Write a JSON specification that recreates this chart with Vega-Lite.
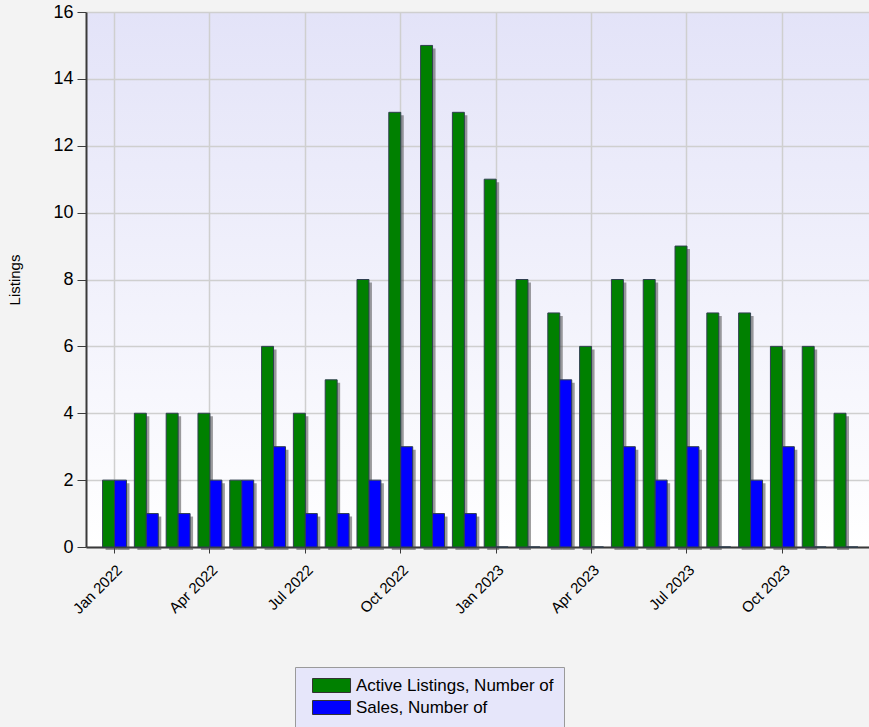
{
  "$schema": "https://vega.github.io/schema/vega-lite/v6.json",
  "width": 783,
  "height": 535,
  "autosize": {"type": "none"},
  "padding": {"left": 86, "top": 12, "right": 0, "bottom": 180},
  "background": "#f3f3f3",
  "view": {
    "stroke": null,
    "fill": {"gradient": "linear", "x1": 0, "y1": 0, "x2": 0, "y2": 1,
      "stops": [{"offset": 0, "color": "#e3e3f8"}, {"offset": 1, "color": "#ffffff"}]}
  },
  "config": {
    "font": "Liberation Sans",
    "axis": {"gridColor": "#cfcfcf", "gridWidth": 1.5, "domainColor": "#3a3a3a", "domainWidth": 2, "tickColor": "#3a3a3a", "labelColor": "#000000", "titleColor": "#000000"}
  },
  "data": {"values": [
    {"month": "Jan 2022", "series": "Active Listings, Number of", "value": 2},
    {"month": "Feb 2022", "series": "Active Listings, Number of", "value": 4},
    {"month": "Mar 2022", "series": "Active Listings, Number of", "value": 4},
    {"month": "Apr 2022", "series": "Active Listings, Number of", "value": 4},
    {"month": "May 2022", "series": "Active Listings, Number of", "value": 2},
    {"month": "Jun 2022", "series": "Active Listings, Number of", "value": 6},
    {"month": "Jul 2022", "series": "Active Listings, Number of", "value": 4},
    {"month": "Aug 2022", "series": "Active Listings, Number of", "value": 5},
    {"month": "Sep 2022", "series": "Active Listings, Number of", "value": 8},
    {"month": "Oct 2022", "series": "Active Listings, Number of", "value": 13},
    {"month": "Nov 2022", "series": "Active Listings, Number of", "value": 15},
    {"month": "Dec 2022", "series": "Active Listings, Number of", "value": 13},
    {"month": "Jan 2023", "series": "Active Listings, Number of", "value": 11},
    {"month": "Feb 2023", "series": "Active Listings, Number of", "value": 8},
    {"month": "Mar 2023", "series": "Active Listings, Number of", "value": 7},
    {"month": "Apr 2023", "series": "Active Listings, Number of", "value": 6},
    {"month": "May 2023", "series": "Active Listings, Number of", "value": 8},
    {"month": "Jun 2023", "series": "Active Listings, Number of", "value": 8},
    {"month": "Jul 2023", "series": "Active Listings, Number of", "value": 9},
    {"month": "Aug 2023", "series": "Active Listings, Number of", "value": 7},
    {"month": "Sep 2023", "series": "Active Listings, Number of", "value": 7},
    {"month": "Oct 2023", "series": "Active Listings, Number of", "value": 6},
    {"month": "Nov 2023", "series": "Active Listings, Number of", "value": 6},
    {"month": "Dec 2023", "series": "Active Listings, Number of", "value": 4},
    {"month": "Jan 2022", "series": "Sales, Number of", "value": 2},
    {"month": "Feb 2022", "series": "Sales, Number of", "value": 1},
    {"month": "Mar 2022", "series": "Sales, Number of", "value": 1},
    {"month": "Apr 2022", "series": "Sales, Number of", "value": 2},
    {"month": "May 2022", "series": "Sales, Number of", "value": 2},
    {"month": "Jun 2022", "series": "Sales, Number of", "value": 3},
    {"month": "Jul 2022", "series": "Sales, Number of", "value": 1},
    {"month": "Aug 2022", "series": "Sales, Number of", "value": 1},
    {"month": "Sep 2022", "series": "Sales, Number of", "value": 2},
    {"month": "Oct 2022", "series": "Sales, Number of", "value": 3},
    {"month": "Nov 2022", "series": "Sales, Number of", "value": 1},
    {"month": "Dec 2022", "series": "Sales, Number of", "value": 1},
    {"month": "Jan 2023", "series": "Sales, Number of", "value": 0},
    {"month": "Feb 2023", "series": "Sales, Number of", "value": 0},
    {"month": "Mar 2023", "series": "Sales, Number of", "value": 5},
    {"month": "Apr 2023", "series": "Sales, Number of", "value": 0},
    {"month": "May 2023", "series": "Sales, Number of", "value": 3},
    {"month": "Jun 2023", "series": "Sales, Number of", "value": 2},
    {"month": "Jul 2023", "series": "Sales, Number of", "value": 3},
    {"month": "Aug 2023", "series": "Sales, Number of", "value": 0},
    {"month": "Sep 2023", "series": "Sales, Number of", "value": 2},
    {"month": "Oct 2023", "series": "Sales, Number of", "value": 3},
    {"month": "Nov 2023", "series": "Sales, Number of", "value": 0},
    {"month": "Dec 2023", "series": "Sales, Number of", "value": 0}
  ]},
  "encoding": {
    "x": {"field": "month", "type": "nominal", "sort": null,
      "scale": {"paddingInner": 0, "paddingOuter": 0.31, "align": 0.64},
      "axis": {"title": null, "values": ["Jan 2022", "Apr 2022", "Jul 2022", "Oct 2022", "Jan 2023", "Apr 2023", "Jul 2023", "Oct 2023"],
        "labelAngle": -45, "labelFontSize": 15, "tickSize": 6, "labelPadding": 9, "labelOffset": 0, "grid": true, "bandPosition": 0.5}},
    "y": {"field": "value", "type": "quantitative",
      "scale": {"domain": [0, 16], "nice": false},
      "axis": {"title": "Listings", "titleFontSize": 15, "titleFontWeight": "normal", "titlePadding": 30, "values": [0, 2, 4, 6, 8, 10, 12, 14, 16], "labelOverlap": false, "labelFontSize": 18, "tickSize": 9, "labelPadding": 4, "grid": true}}
  },
  "resolve": {"scale": {"xOffset": "independent"}},
  "layer": [
    {
      "mark": {"type": "bar", "color": "#4a4a4a", "opacity": 0.55, "yOffset": 3},
      "encoding": {
        "xOffset": {"field": "series", "type": "nominal", "scale": {"paddingInner": 0, "paddingOuter": 0.33, "range": [3, 34.8]}}
      }
    },
    {
      "mark": {"type": "bar", "stroke": "#2f3f4f", "strokeWidth": 1},
      "encoding": {
        "xOffset": {"field": "series", "type": "nominal", "scale": {"paddingInner": 0, "paddingOuter": 0.33}},
        "color": {"field": "series", "type": "nominal",
          "scale": {"range": ["#008000", "#0000ff"]},
          "legend": {"title": null, "orient": "none", "legendX": 209, "legendY": 655, "direction": "vertical",
            "fillColor": "#e6e6fa", "strokeColor": "#9a9a9a", "padding": 10,
            "symbolType": "M-0.14,-1H5.29V1H-0.14Z", "symbolSize": 196, "symbolStrokeColor": "#333333", "symbolStrokeWidth": 1, "symbolOpacity": 1,
            "labelFontSize": 17, "labelColor": "#000000", "labelOffset": 34, "labelLimit": 400, "rowPadding": 3}}
      }
    }
  ]
}
